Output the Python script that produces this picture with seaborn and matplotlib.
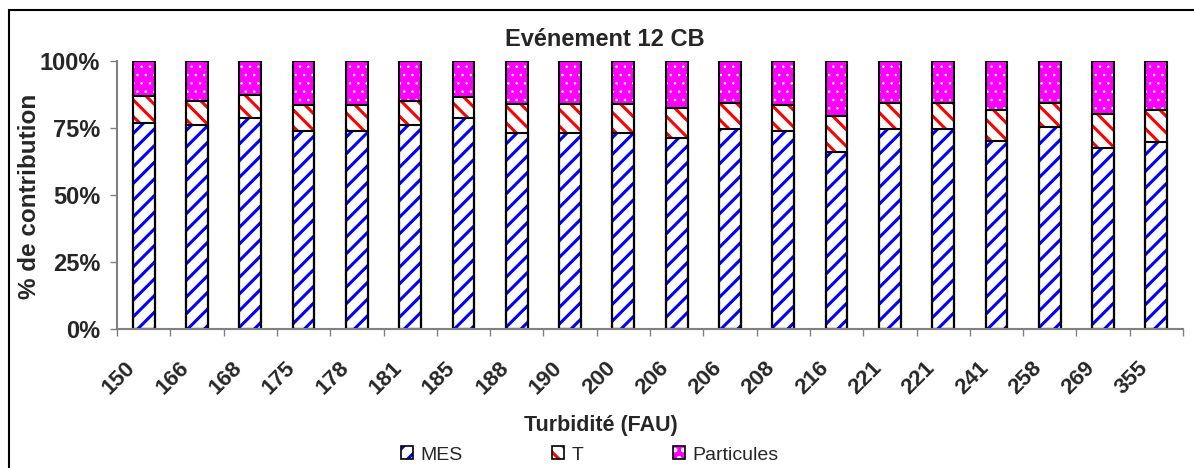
import numpy as np
import pandas as pd
import matplotlib
matplotlib.use("Agg")
import matplotlib.pyplot as plt
from matplotlib.patches import Patch, Rectangle
import seaborn as sns

# data (percent of contribution)
turbidite = ["150", "166", "168", "175", "178", "181", "185", "188", "190", "200",
             "206", "206", "208", "216", "221", "221", "241", "258", "269", "355"]
mes = [76.8, 76.2, 78.9, 74.0, 74.0, 76.1, 78.9, 73.1, 73.2, 73.1,
       71.1, 74.6, 73.9, 66.1, 74.7, 74.6, 70.3, 75.2, 67.5, 69.6]
t = [10.0, 9.0, 8.4, 9.7, 9.7, 8.9, 7.6, 10.7, 10.6, 10.7,
     11.2, 9.8, 9.8, 13.3, 9.7, 9.8, 11.4, 9.2, 12.7, 12.1]
particules = [100 - a - b for a, b in zip(mes, t)]

series = ["MES", "T", "Particules"]
hatch_colors = ["#0000FF", "#FF0000", "white"]
face_colors = ["white", "white", "#FF00FF"]
hatches = ["//", "\\\\", ".."]

df = pd.DataFrame({"pos": range(len(turbidite)), "turb": turbidite,
                   "MES": mes, "T": t, "Particules": particules})
df["cum_T"] = df["MES"] + df["T"]
df["cum_P"] = df["cum_T"] + df["Particules"]

sns.set_theme(style="white")
plt.rcParams["font.family"] = ["Liberation Sans", "DejaVu Sans"]
plt.rcParams["hatch.linewidth"] = 2.2

fig = plt.figure(figsize=(11.94, 4.68), dpi=100)
ax = fig.add_axes([117 / 1194, 1 - 329 / 468, (1183 - 117) / 1194, (329 - 61) / 468])

bar_w = 0.41
# stacked: draw cumulative totals from the top layer down
layers = [("cum_P", 2), ("cum_T", 1), ("MES", 0)]
for col, k in layers:
    n0 = len(ax.patches)
    sns.barplot(data=df, x="pos", y=col, color=face_colors[k], saturation=1,
                width=bar_w, errorbar=None, ax=ax)
    for p in ax.patches[n0:]:
        p.set_hatch(hatches[k])
        p.set_edgecolor(hatch_colors[k])
        p.set_linewidth(0)
        if hasattr(p, "set_hatch_linewidth"):
            p.set_hatch_linewidth(0.6 if k == 2 else 2.2)
# black outlines
for col, k in layers:
    sns.barplot(data=df, x="pos", y=col, color="black", fill=False, linewidth=1.5,
                width=bar_w, errorbar=None, ax=ax)

n = len(turbidite)
ax.set_xlim(-0.5, n - 0.5)
ax.set_ylim(0, 100)
ax.set_yticks([0, 25, 50, 75, 100])
ax.set_yticklabels(["0%", "25%", "50%", "75%", "100%"], fontsize=17, fontweight="bold")
# labels sit a little left of the bar centres, as in the original
ax.set_xticks(np.arange(n) - 0.21)
ax.set_xticklabels(turbidite, fontsize=16, fontweight="bold", rotation=45,
                   ha="right", va="center", rotation_mode="anchor")
ax.set_xticks(np.arange(-0.5, n, 1), minor=True)
ax.tick_params(axis="x", which="major", length=0, pad=26)
ax.tick_params(axis="x", which="minor", length=5, width=1, color="#808080", direction="out", bottom=True)
ax.tick_params(axis="y", length=5, width=1, color="#808080", direction="out", left=True, pad=7)
ax.set_xlabel("")
ax.set_ylabel("")
for s in ["top", "right"]:
    ax.spines[s].set_visible(False)
for s in ["left", "bottom"]:
    ax.spines[s].set_color("#808080")
    ax.spines[s].set_linewidth(1.5)

fig.text(30 / 1194, 1 - 196 / 468, "% de contribution", rotation=90, fontsize=17.5,
         fontweight="bold", ha="center", va="center")
fig.text(605 / 1194, 1 - 40 / 468, "Evénement 12 CB", fontsize=17,
         fontweight="bold", ha="center", va="center")
fig.text(601 / 1194, 1 - 426 / 468, "Turbidité (FAU)", fontsize=15.5,
         fontweight="bold", ha="center", va="center")

handles = []
for k in range(3):
    h1 = Patch(facecolor=face_colors[k], edgecolor=hatch_colors[k], hatch=hatches[k], linewidth=0)
    h2 = Patch(facecolor="none", edgecolor="black", linewidth=1.2)
    handles.append((h1, h2))
fig.legend(handles, series, loc="center", bbox_to_anchor=(590 / 1194, 1 - 455 / 468),
           ncol=3, frameon=False, fontsize=14, handlelength=0.6, handleheight=0.6,
           handletextpad=0.4, columnspacing=4.6, borderpad=0)

# outer frame of the chart area
fig.patches.append(Rectangle((9 / 1194, -0.05), 1.2, 1 - 10 / 468 + 0.05, transform=fig.transFigure,
                             fill=False, edgecolor="black", linewidth=1.5))

fig.savefig("out.png", dpi=100)
